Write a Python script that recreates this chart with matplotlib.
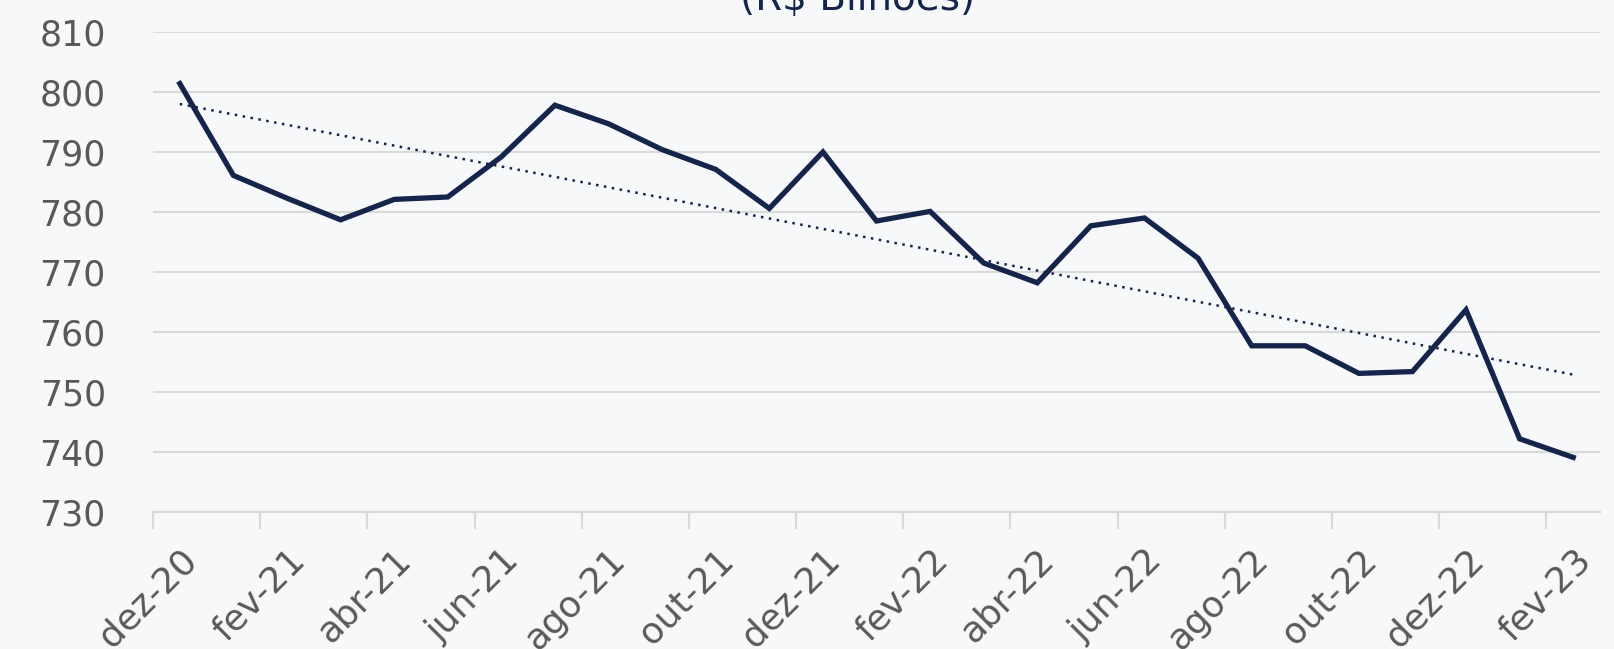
import matplotlib
matplotlib.use("Agg")
import matplotlib.pyplot as plt
import numpy as np

categories = ["dez-20", "jan-21", "fev-21", "mar-21", "abr-21", "mai-21", "jun-21", "jul-21",
              "ago-21", "set-21", "out-21", "nov-21", "dez-21", "jan-22", "fev-22", "mar-22",
              "abr-22", "mai-22", "jun-22", "jul-22", "ago-22", "set-22", "out-22", "nov-22",
              "dez-22", "jan-23", "fev-23"]
values = [801.4, 786.1, 782.3, 778.7, 782.1, 782.5, 789.2, 797.8, 794.7, 790.4, 787.1, 780.6,
          790.0, 778.5, 780.1, 771.5, 768.2, 777.7, 779.0, 772.3, 757.7, 757.7, 753.1, 753.4,
          763.7, 742.2, 739.1]
yticks = [730, 740, 750, 760, 770, 780, 790, 800, 810]
title = "(R\\$ Bilhões)"

bg = "#f7f8fa"
navy = "#15244a"
plt.rcParams['font.family'] = ['DejaVu Sans']

fig = plt.figure(figsize=(16.15, 6.49), dpi=100, facecolor=bg)
ax = fig.add_axes([153/1615, 1 - 512/649, (1600-153)/1615, (512-32)/649])
ax.set_facecolor(bg)

x = np.arange(len(categories))
ax.plot(x, values, color=navy, lw=3.8, solid_joinstyle='miter', zorder=3)
coef = np.polyfit(x, values, 1)
ax.plot(x, np.polyval(coef, x), color=navy, lw=1.8, ls=(0, (1, 2.2)), zorder=2)

ax.set_xlim(-0.5, len(categories) - 0.5)
ax.set_ylim(730, 810)
ax.set_yticks(yticks)
ax.set_yticklabels([str(v) for v in yticks])
ax.grid(axis='y', color="#d9d9d9", lw=1.5)
ax.set_axisbelow(True)

# x labels every 2 months at category centers, tick marks at boundaries
ax.set_xticks(x[::2])
ax.set_xticklabels(categories[::2], rotation=45, ha='right', rotation_mode='anchor')
ax.set_xticks(np.arange(-0.5, len(categories) - 0.5, 2), minor=True)
ax.tick_params(axis='x', which='major', length=0, pad=22, labelsize=26, labelcolor="#595959")
ax.tick_params(axis='x', which='minor', length=12, width=1.5, color="#d9d9d9")
ax.tick_params(axis='y', length=0, pad=34, labelsize=25, labelcolor="#595959")

for s in ['top', 'right', 'left']:
    ax.spines[s].set_visible(False)
ax.spines['bottom'].set_color("#d9d9d9")
ax.spines['bottom'].set_linewidth(1.5)

fig.text(858/1615, 1 - 10/649, title, ha='center', va='baseline', fontsize=28, color=navy)

fig.savefig("out.png", dpi=100, facecolor=bg)
